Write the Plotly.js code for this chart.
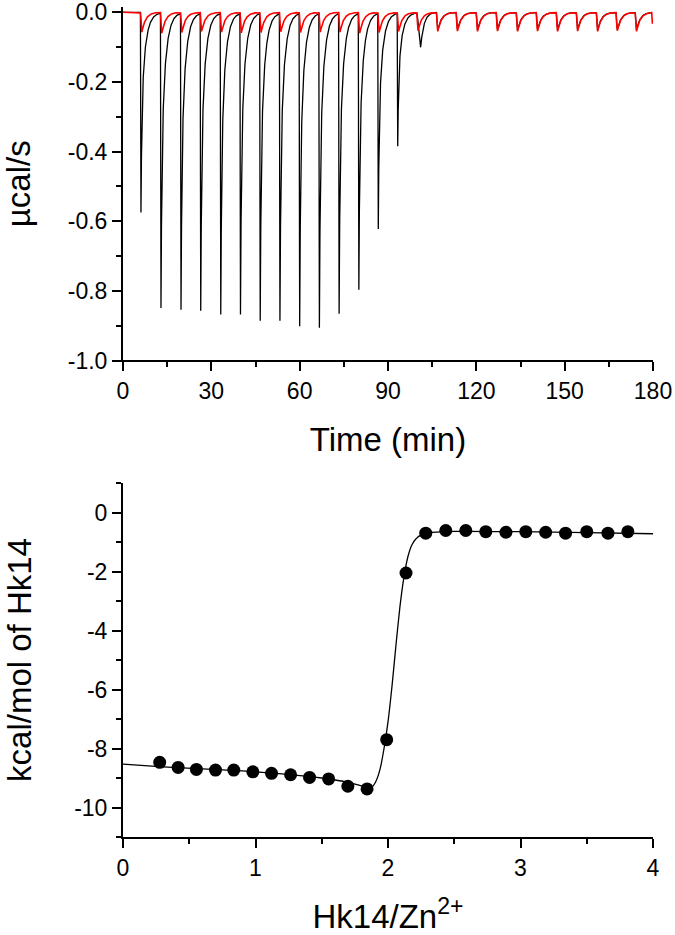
<!DOCTYPE html>
<html>
<head>
<meta charset="utf-8">
<script src="https://cdn.plot.ly/plotly-3.0.1.min.js"></script>
<style>
html, body { margin: 0; padding: 0; background: #fff; }
#chart { width: 675px; height: 935px; }
</style>
</head>
<body>
<div id="chart"></div>
<script>
// ---------- Data ----------
// Injection times (min) in the raw thermogram
const injTimes = [5.9, 12.7, 19.5, 26.2, 33.0, 39.7, 46.4, 53.1, 59.8, 66.5, 73.2, 79.9, 86.5,
                  93.1, 99.7, 106.4, 113.1, 119.9, 126.7, 133.5, 140.3, 147.1, 153.9, 160.7,
                  167.4, 173.9, 179.5];
// Peak minimum of the Hk14 -> Zn2+ titration (black), µcal/s
const blackPeaks = [-0.575, -0.849, -0.854, -0.857, -0.868, -0.868, -0.886, -0.886, -0.902,
                    -0.906, -0.866, -0.797, -0.622, -0.385, -0.100, -0.052, -0.050, -0.051,
                    -0.050, -0.052, -0.050, -0.051, -0.050, -0.052, -0.050, -0.050, -0.050];
// Peak minimum of the control / dilution run (red), µcal/s
const redPeaks = [-0.057, -0.060, -0.058, -0.055, -0.057, -0.059, -0.058, -0.056, -0.058,
                  -0.057, -0.057, -0.060, -0.058, -0.055, -0.053, -0.055, -0.054, -0.055,
                  -0.054, -0.055, -0.054, -0.055, -0.054, -0.055, -0.053, -0.055, -0.050];
const blackEnd = 179.3;   // last time of the black record (min)
const redEnd = 179.8;     // last time of the red record (min)

// Integrated heats (bottom panel)
const ratioX = [0.277, 0.416, 0.554, 0.698, 0.836, 0.980, 1.121, 1.265, 1.408, 1.552, 1.697, 1.842,
                1.990, 2.136, 2.285, 2.436, 2.587, 2.738, 2.890, 3.040, 3.190, 3.340, 3.500,
                3.660, 3.810];
const heatY  = [-8.47, -8.64, -8.71, -8.73, -8.73, -8.79, -8.84, -8.89, -8.98, -9.03, -9.28, -9.37,
                -7.70, -2.05, -0.70, -0.61, -0.61, -0.65, -0.67, -0.65, -0.67, -0.70, -0.65,
                -0.70, -0.65];
// Fitted binding curve
const fitX = [0, 0.3, 0.6, 0.9, 1.2, 1.5, 1.7, 1.8, 1.85, 1.88, 1.91, 1.94, 1.97, 2.0, 2.03,
              2.06, 2.09, 2.12, 2.15, 2.18, 2.21, 2.25, 2.3, 2.5, 3.0, 3.5, 4.0];
const fitY = [-8.53, -8.62, -8.69, -8.76, -8.86, -9.0, -9.15, -9.27, -9.33, -9.3, -9.1, -8.7,
              -8.0, -7.1, -5.9, -4.5, -3.2, -2.2, -1.5, -1.1, -0.9, -0.76, -0.69, -0.64, -0.65,
              -0.68, -0.72];

// Axis tick labels
const topYTickVals = [0, -0.2, -0.4, -0.6, -0.8, -1.0];
const topYTickText = ['0.0', '-0.2', '-0.4', '-0.6', '-0.8', '-1.0'];
const topXTickVals = [0, 30, 60, 90, 120, 150, 180];
const topXTickText = ['0', '30', '60', '90', '120', '150', '180'];
const botYTickVals = [0, -2, -4, -6, -8, -10];
const botYTickText = ['0', '-2', '-4', '-6', '-8', '-10'];
const botXTickVals = [0, 1, 2, 3, 4];
const botXTickText = ['0', '1', '2', '3', '4'];

// ---------- Build the thermogram traces from the peak data ----------
function peakValue(s, h, small, broad) {
  // s: minutes since injection, h: peak minimum (negative)
  const drop = broad ? 1.4 : (small ? 0.5 : 0.2);
  if (s < drop) {
    return h * (1 - Math.cos(Math.PI * s / drop)) / 2;
  }
  const r = s - drop;
  if (small || broad) {
    return h * Math.exp(-r / (broad ? 1.1 : 1.3));
  }
  return h * (0.5 * Math.exp(-r / 0.3) + 0.5 * Math.exp(-r / 1.4));
}
function buildTrace(times, peaks, tEnd) {
  const xs = [], ys = [];
  const step = 0.02;
  for (let t = 0; t <= tEnd + 1e-9; t += step) {
    let k = -1;
    for (let i = 0; i < times.length; i++) { if (times[i] <= t) k = i; }
    let v = 0;
    if (k >= 0) {
      const h = peaks[k];
      const small = Math.abs(h) < 0.07;
      const broad = !small && Math.abs(h) < 0.15;
      v = peakValue(t - times[k], h, small, broad);
    }
    xs.push(+t.toFixed(3));
    ys.push(v);
  }
  return { x: xs, y: ys };
}
const blk = buildTrace(injTimes, blackPeaks, blackEnd);
const red = buildTrace(injTimes, redPeaks, redEnd);

const FONT = 'Liberation Sans, Arial, Helvetica, sans-serif';

const traces = [
  { x: blk.x, y: blk.y, xaxis: 'x', yaxis: 'y', type: 'scatter', mode: 'lines',
    line: { color: '#000000', width: 1.3 }, hoverinfo: 'skip' },
  { x: red.x, y: red.y, xaxis: 'x', yaxis: 'y', type: 'scatter', mode: 'lines',
    line: { color: '#ff0000', width: 1.6 }, hoverinfo: 'skip' },
  { x: fitX, y: fitY, xaxis: 'x2', yaxis: 'y2', type: 'scatter', mode: 'lines',
    line: { color: '#000000', width: 1.3, shape: 'spline', smoothing: 0.6 }, hoverinfo: 'skip' },
  { x: ratioX, y: heatY, xaxis: 'x2', yaxis: 'y2', type: 'scatter', mode: 'markers',
    marker: { color: '#000000', size: 13, symbol: 'circle' }, hoverinfo: 'skip' }
];

function axisBase() {
  return {
    showline: true, linecolor: '#000', linewidth: 2,
    ticks: 'outside', ticklen: 9, tickwidth: 2, tickcolor: '#000',
    showgrid: false, zeroline: false, mirror: false,
    tickfont: { family: FONT, size: 23, color: '#000' },
    ticklabeloverflow: 'allow',
    tickmode: 'array'
  };
}
function minor(tick0, dtick) {
  return { tickmode: 'linear', tick0: tick0, dtick: dtick, ticks: 'outside', ticklen: 5,
           tickwidth: 2, tickcolor: '#000', showgrid: false };
}
const titleFont = { family: FONT, size: 33, color: '#000' };

const layout = {
  width: 675, height: 935,
  margin: { l: 123, r: 22, t: 7, b: 98 },
  paper_bgcolor: '#fff', plot_bgcolor: '#fff',
  showlegend: false,
  xaxis: Object.assign(axisBase(), {
    anchor: 'y', domain: [0, 1], range: [0, 180],
    tickvals: topXTickVals, ticktext: topXTickText, minor: minor(0, 15),
    title: { text: 'Time (min)', font: titleFont, standoff: 25 }
  }),
  yaxis: Object.assign(axisBase(), {
    anchor: 'x', domain: [0.5741, 1], range: [-1.0, 0.0152],
    tickvals: topYTickVals, ticktext: topYTickText, minor: minor(0, 0.1),
    title: { text: 'µcal/s', font: titleFont, standoff: 30 }
  }),
  xaxis2: Object.assign(axisBase(), {
    anchor: 'y2', domain: [0, 1], range: [0, 4],
    tickvals: botXTickVals, ticktext: botXTickText, minor: minor(0, 0.5),
    title: { text: 'Hk14/Zn<sup>2+</sup>', font: titleFont, standoff: 25 }
  }),
  yaxis2: Object.assign(axisBase(), {
    anchor: 'x2', domain: [0, 0.4265], range: [-11, 1],
    tickvals: botYTickVals, ticktext: botYTickText, minor: minor(0, 1),
    title: { text: 'kcal/mol of Hk14', font: titleFont, standoff: 33 }
  })
};

Plotly.newPlot('chart', traces, layout, { staticPlot: true, displayModeBar: false });
</script>
</body>
</html>
